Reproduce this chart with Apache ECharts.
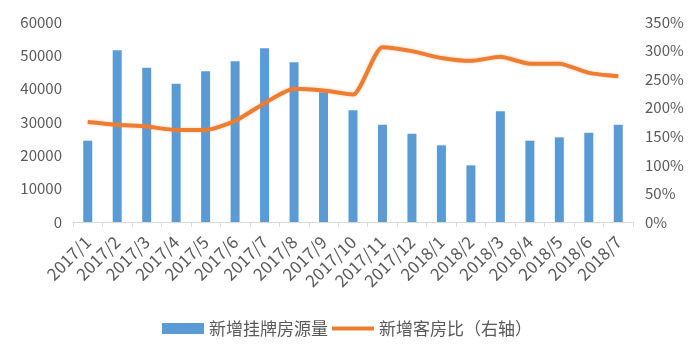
<!DOCTYPE html>
<html>
<head>
<meta charset="utf-8">
<script src="https://cdn.jsdelivr.net/npm/echarts@6/dist/echarts.min.js"></script>
<style>
  html, body { margin: 0; padding: 0; background: #fff; }
  #chart { width: 700px; height: 354px; }
</style>
</head>
<body>
<div id="chart"></div>
<script>
// 月份
var months = ["2017/1", "2017/2", "2017/3", "2017/4", "2017/5", "2017/6", "2017/7", "2017/8", "2017/9", "2017/10",
  "2017/11", "2017/12", "2018/1", "2018/2", "2018/3", "2018/4", "2018/5", "2018/6", "2018/7"];
// 新增挂牌房源量（左轴）
var newListings = [24400, 51500, 46300, 41500, 45200, 48200, 52100, 47900, 38900, 33500,
  29200, 26500, 23000, 17000, 33200, 24400, 25400, 26800, 29200];
// 新增客房比（右轴，%）
var clientRatio = [175, 170, 167, 161, 161, 177, 208, 233, 230, 223,
  306, 299, 287, 282, 289, 277, 277, 261, 255];

var myChart = echarts.init(document.getElementById("chart"));
var labelColor = "#595959";
var axisColor = "#d9d9d9";
var fontFamily = "'Noto Sans CJK SC', 'Noto Sans', sans-serif";

var option = {
  animation: false,
  textStyle: { fontFamily: fontFamily },
  grid: { left: 73, right: 67, top: 22, bottom: 132 },
  legend: {
    top: 315,
    left: 157,
    itemWidth: 42,
    itemHeight: 11,
    itemGap: 4,
    textStyle: { color: labelColor, fontSize: 17, fontFamily: fontFamily },
    data: [
      { name: "新增挂牌房源量", icon: "rect" },
      // 图例里只画一条短线
      { name: "新增客房比（右轴）", icon: "path://M0,0 L44,0 L44,4 L0,4 Z" }
    ]
  },
  xAxis: {
    type: "category",
    data: months,
    boundaryGap: true,
    axisLine: { lineStyle: { color: axisColor, width: 1 } },
    axisTick: { show: true, length: 5, lineStyle: { color: axisColor } },
    axisLabel: { rotate: 45, color: labelColor, fontSize: 17, margin: 17, interval: 0 },
    splitLine: { show: false }
  },
  yAxis: [
    {
      type: "value",
      min: 0,
      max: 60000,
      interval: 10000,
      axisLine: { show: false },
      axisTick: { show: false },
      splitLine: { show: false },
      axisLabel: {
        color: labelColor,
        fontSize: 15,
        margin: 11,
        formatter: function (v) { return String(v); }
      }
    },
    {
      type: "value",
      min: 0,
      max: 350,
      interval: 50,
      axisLine: { show: false },
      axisTick: { show: false },
      splitLine: { show: false },
      axisLabel: { color: labelColor, fontSize: 15, margin: 12, formatter: "{value}%" }
    }
  ],
  series: [
    {
      name: "新增挂牌房源量",
      type: "bar",
      data: newListings,
      barWidth: 9,
      itemStyle: { color: "#5b9bd5" }
    },
    {
      name: "新增客房比（右轴）",
      type: "line",
      yAxisIndex: 1,
      data: clientRatio,
      symbol: "none",
      smooth: 0.2,
      lineStyle: { color: "#ed7d31", width: 4, shadowBlur: 3, shadowColor: "rgba(237,125,49,0.4)" },
      itemStyle: { color: "#ed7d31" }
    }
  ]
};
myChart.setOption(option);
</script>
</body>
</html>
